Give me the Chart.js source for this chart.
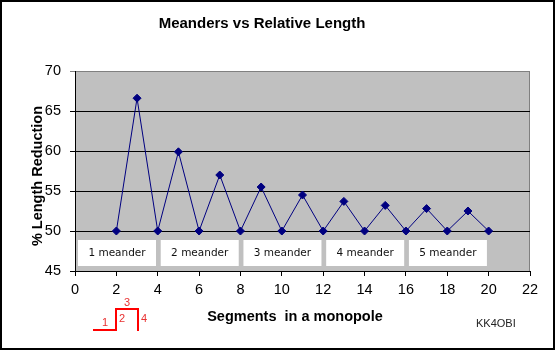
<!DOCTYPE html>
<html>
<head>
<meta charset="utf-8">
<script src="https://cdn.jsdelivr.net/npm/chart.js@4.4.0/dist/chart.umd.min.js"></script>
<style>
  html, body { margin: 0; padding: 0; background: #fff; }
  #wrap { width: 557px; height: 351px; }
</style>
</head>
<body>
<div id="wrap"><canvas id="meanderChart" width="557" height="351"></canvas></div>
<script>
// data
var segments = [2, 3, 4, 5, 6, 7, 8, 9, 10, 11, 12, 13, 14, 15, 16, 17, 18, 19, 20];
var reduction = [50, 66.6, 50, 59.9, 50, 57.0, 50, 55.5, 50, 54.5, 50, 53.7, 50, 53.2, 50, 52.8, 50, 52.5, 50];
var meanderLabels = ['1 meander', '2 meander', '3 meander', '4 meander', '5 meander'];
var meanderStart = [0, 4, 8, 12, 16];
var chartTitle = 'Meanders vs Relative Length';
var xTitle = 'Segments  in a monopole';
var yTitle = '% Length Reduction';
var author = 'KK4OBI';

var points = segments.map(function(s, i){ return {x: s, y: reduction[i]}; });

// extra drawing: plot background, title, axis titles, label boxes, little meander sketch
var decor = {
    id: 'decor',
    beforeDraw: function(chart){
        var ctx = chart.ctx, a = chart.chartArea;
        ctx.save();
        ctx.fillStyle = '#fff';
        ctx.fillRect(0, 0, chart.width, chart.height);
        ctx.fillStyle = '#c0c0c0';
        ctx.fillRect(a.left, a.top, a.right - a.left, a.bottom - a.top);
        ctx.strokeStyle = '#808080';
        ctx.lineWidth = 1;
        ctx.strokeRect(a.left + 0.5, a.top + 0.5, a.right - a.left - 1, a.bottom - a.top);
        ctx.restore();
    },
    afterDraw: function(chart){
        var ctx = chart.ctx;
        var xs = chart.scales.x, ys = chart.scales.y;
        ctx.save();

        // label boxes under the 50% line
        var top = ys.getPixelForValue(50) + 9;
        ctx.font = '10.5px "DejaVu Sans"';
        ctx.textAlign = 'center';
        ctx.textBaseline = 'middle';
        meanderLabels.forEach(function(lbl, i){
            var left = xs.getPixelForValue(meanderStart[i]) + 3;
            ctx.fillStyle = '#fff';
            ctx.fillRect(left, top, 78, 26);
            ctx.fillStyle = '#111';
            ctx.fillText(lbl, left + 39, top + 13.5);
        });

        // titles
        ctx.fillStyle = '#000';
        ctx.font = 'bold 15px "Liberation Sans"';
        ctx.fillText(chartTitle, 262, 24);
        ctx.font = 'bold 14.5px "Liberation Sans"';
        ctx.fillText(xTitle, 295, 317);
        ctx.save();
        ctx.translate(38, 176);
        ctx.rotate(-Math.PI / 2);
        ctx.fillText(yTitle, 0, 0);
        ctx.restore();

        ctx.font = '11px "Liberation Sans"';
        ctx.fillStyle = '#222';
        ctx.textAlign = 'left';
        ctx.fillText(author, 476, 324);

        // meander sketch
        ctx.strokeStyle = '#ff0000';
        ctx.lineWidth = 2;
        ctx.beginPath();
        ctx.moveTo(93, 330);
        ctx.lineTo(116, 330);
        ctx.lineTo(116, 309);
        ctx.lineTo(138, 309);
        ctx.lineTo(138, 331);
        ctx.stroke();
        ctx.fillStyle = '#e83030';
        ctx.font = '11px "Liberation Sans"';
        ctx.textAlign = 'center';
        ctx.fillText('1', 105, 323);
        ctx.fillText('2', 122, 319);
        ctx.fillText('3', 127, 303);
        ctx.fillText('4', 144, 319);

        // outer frame
        ctx.strokeStyle = '#000';
        ctx.lineWidth = 2;
        ctx.strokeRect(1, 1, 553, 348);
        ctx.restore();
    }
};

new Chart(document.getElementById('meanderChart'), {
    type: 'scatter',
    data: {
        datasets: [{
            label: yTitle,
            data: points,
            showLine: true,
            borderColor: '#000080',
            borderWidth: 1,
            backgroundColor: '#000080',
            pointStyle: 'rectRot',
            pointRadius: 4,
            pointHoverRadius: 4,
            tension: 0
        }]
    },
    options: {
        responsive: false,
        animation: false,
        events: [],
        layout: { padding: { top: 71, right: 27, left: 0, bottom: 0 } },
        plugins: { legend: { display: false }, title: { display: false }, tooltip: { enabled: false } },
        scales: {
            x: {
                type: 'linear',
                min: 0, max: 22,
                afterFit: function(s){ s.height = 80; },
                ticks: { stepSize: 2, color: '#000', padding: 5, font: { family: 'Liberation Sans', size: 14.5 } },
                grid: { drawOnChartArea: false, drawTicks: true, tickLength: 5, color: '#000' },
                border: { color: '#000', width: 1 }
            },
            y: {
                min: 45, max: 70,
                afterFit: function(s){ s.width = 75; },
                ticks: { stepSize: 5, color: '#000', padding: 9, font: { family: 'Liberation Sans', size: 14.5 } },
                grid: {
                    tickLength: 5,
                    color: function(c){ return c.tick && c.tick.value === 70 ? '#808080' : '#000'; }
                },
                border: { color: '#000', width: 1 }
            }
        }
    },
    plugins: [decor]
});
</script>
</body>
</html>
